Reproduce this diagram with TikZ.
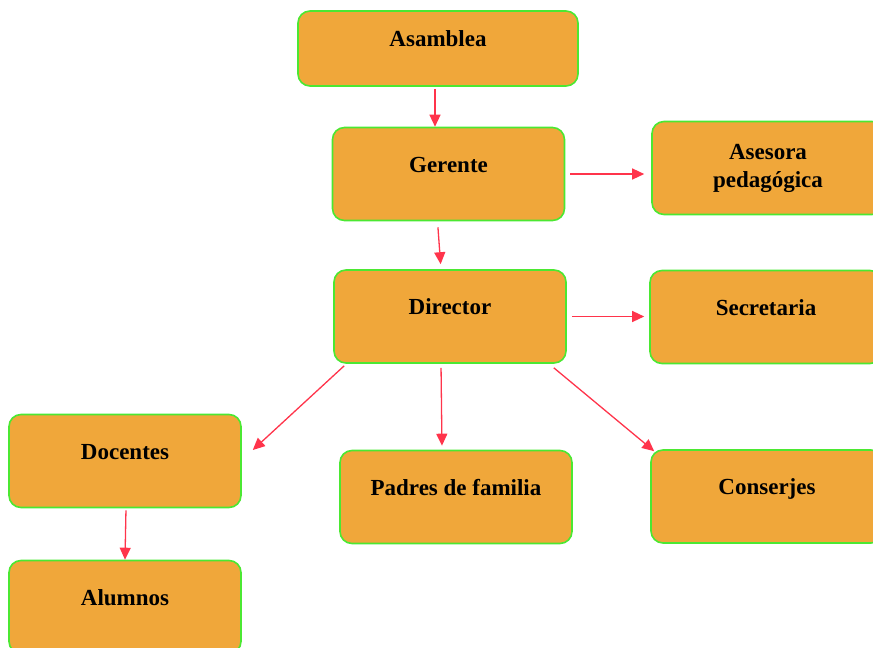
\documentclass[tikz,border=0pt]{standalone}
\usepackage{fontspec}
\setmainfont{Liberation Serif}
\usepackage{tikz}
\usetikzlibrary{arrows.meta, positioning}
\definecolor{boxorange}{RGB}{240, 167, 58}
\definecolor{boxgreen}{RGB}{75, 232, 50}
\definecolor{arrowred}{RGB}{255, 52, 75}

\begin{document}
\begin{tikzpicture}[
    x=1pt, y=-1pt,
    box/.style={rectangle, draw=boxgreen, line width=1.6pt, fill=boxorange,
                rounded corners=12pt, minimum width=232pt, minimum height=93pt,
                text height=16pt, text depth=20pt, align=center,
                font=\fontsize{23pt}{28pt}\selectfont\bfseries},
    link/.style={-{Triangle[length=12pt, width=11pt]}, draw=arrowred, line width=1.3pt}
]
    \useasboundingbox (0,0) rectangle (873,648);

    % Organigrama
    \node[box, minimum width=280pt, minimum height=75pt] (asamblea) at (438,48.5) {Asamblea};
    \node[box] (gerente) at (448.5,174) {Gerente};
    \node[box, text height=, text depth=] (asesora) at (768,168) {Asesora\\pedagógica};
    \node[box] (director) at (450,316.5) {Director};
    \node[box] (secretaria) at (766,317) {Secretaria};
    \node[box] (docentes) at (125,461) {Docentes};
    \node[box] (padres) at (456,497) {Padres de familia};
    \node[box] (conserjes) at (767,496.5) {Conserjes};
    \node[box] (alumnos) at (125,607) {Alumnos};

    % Enlaces
    \draw[link, shorten <=2pt] ([xshift=-3pt]asamblea.south) -- ([xshift=-3pt]asamblea.south |- gerente.north);
    \draw[link, shorten <=6pt, shorten >=5pt] ([xshift=-11pt]gerente.south) -- ([xshift=-9pt]director.north);
    \draw[link, shorten <=5pt, shorten >=7pt] (gerente.east) -- (gerente.east -| asesora.west);
    \draw[link, shorten <=5pt, shorten >=5pt] (director.east) -- (director.east -| secretaria.west);
    \draw[link] ([shift={(11pt,-2pt)}]director.south west) -- ([shift={(11pt,11pt)}]docentes.east);
    \draw[link, shorten <=4pt, shorten >=4pt] ([xshift=-9pt]director.south) -- ([xshift=-14pt]padres.north);
    \draw[link] ([shift={(-13pt,-4pt)}]director.south east) -- ([shift={(4pt,-2pt)}]conserjes.north west);
    \draw[link, shorten <=2pt] ([xshift=1pt]docentes.south) -- (alumnos.north);

\end{tikzpicture}
\end{document}
